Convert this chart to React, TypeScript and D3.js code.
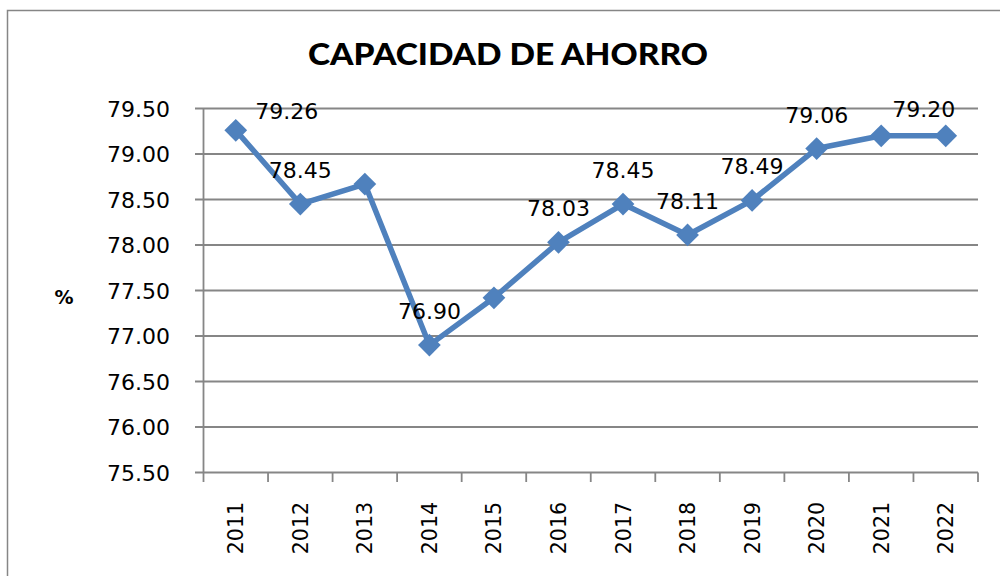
import React from "react";
import * as d3 from "d3";

const years = ["2011","2012","2013","2014","2015","2016","2017","2018","2019","2020","2021","2022"];
const values = [79.26, 78.45, 78.67, 76.90, 77.42, 78.03, 78.45, 78.11, 78.49, 79.06, 79.20, 79.20];
const labelShown = [true, true, false, true, false, true, true, true, true, true, false, true];
const yTicks = [75.5, 76.0, 76.5, 77.0, 77.5, 78.0, 78.5, 79.0, 79.5];
const title = "CAPACIDAD DE AHORRO";
const yTitle = "%";

// label placement nudges (Excel-like manual placement)
const labelNudge: Record<string, [number, number]> = {
  "2011": [51, 15],
  "2022": [-22, 7],
};

const W = 1000, H = 576;
const M = { left: 203.5, right: 978, top: 108.5, bottom: 472.5 };
const COLOR = "#4F81BD";
const GRID = "#868686";
const FONT = "'DejaVu Sans', Verdana, sans-serif";

export default function App() {
  const x = d3.scaleBand<string>().domain(years).range([M.left, M.right]).padding(0);
  const y = d3.scaleLinear().domain([75.5, 79.5]).range([M.bottom, M.top]);
  const cx = (d: string) => (x(d) as number) + x.bandwidth() / 2;
  const line = d3.line<number>().x((_, i) => cx(years[i])).y((v) => y(v));
  const diamond = d3.symbol().type(d3.symbolDiamond2 ?? d3.symbolDiamond).size(330)();
  const boundaries = years.map((d) => x(d) as number).concat([M.right]);

  return (
    <svg width={W} height={H} style={{ position: "absolute", left: 0, top: 0, background: "#fff" }}>
      <rect x={0} y={0} width={W} height={H} fill="#fff" />
      {/* outer border */}
      <path d={`M7.5,${H} V10.5 H${W}`} fill="none" stroke={GRID} strokeWidth={1.5} />
      {/* title */}
      <text x={508} y={65} textAnchor="middle" fontFamily="Lato, 'Open Sans', sans-serif" fontWeight={900}
        fontSize={31} textLength={400} lengthAdjust="spacingAndGlyphs" fill="#000">{title}</text>
      {/* gridlines */}
      {yTicks.map((t) => (
        <line key={t} x1={195} x2={M.right} y1={y(t)} y2={y(t)} stroke={GRID} strokeWidth={1.8} />
      ))}
      {/* y axis line */}
      <line x1={M.left} x2={M.left} y1={M.top} y2={M.bottom} stroke={GRID} strokeWidth={1.8} />
      {/* x ticks */}
      {boundaries.map((b, i) => (
        <line key={i} x1={b} x2={b} y1={M.bottom} y2={482} stroke={GRID} strokeWidth={1.8} />
      ))}
      {/* y labels */}
      {yTicks.map((t) => (
        <text key={t} x={170} y={y(t) + 8} textAnchor="end" fontFamily={FONT} fontSize={22} fill="#000">
          {d3.format(".2f")(t)}
        </text>
      ))}
      {/* y title */}
      <text x={64} y={304} textAnchor="middle" fontFamily={FONT} fontWeight={700} fontSize={19} fill="#000">{yTitle}</text>
      {/* x labels */}
      {years.map((d) => (
        <text key={d} transform={`translate(${cx(d) + 7.5},502) rotate(-90)`} textAnchor="end"
          fontFamily={FONT} fontSize={20.5} fill="#000">{d}</text>
      ))}
      {/* line */}
      <path d={line(values) || ""} fill="none" stroke={COLOR} strokeWidth={5.5} strokeLinejoin="round" />
      {values.map((v, i) => (
        <path key={i} d={diamond || ""} transform={`translate(${cx(years[i])},${y(v)})`} fill={COLOR} />
      ))}
      {/* data labels */}
      {values.map((v, i) => {
        if (!labelShown[i]) return null;
        const [dx, dy] = labelNudge[years[i]] || [0, 0];
        return (
          <text key={i} x={cx(years[i]) + dx} y={y(v) - 26 + dy} textAnchor="middle"
            fontFamily={FONT} fontSize={22} fill="#000">{d3.format(".2f")(v)}</text>
        );
      })}
    </svg>
  );
}
